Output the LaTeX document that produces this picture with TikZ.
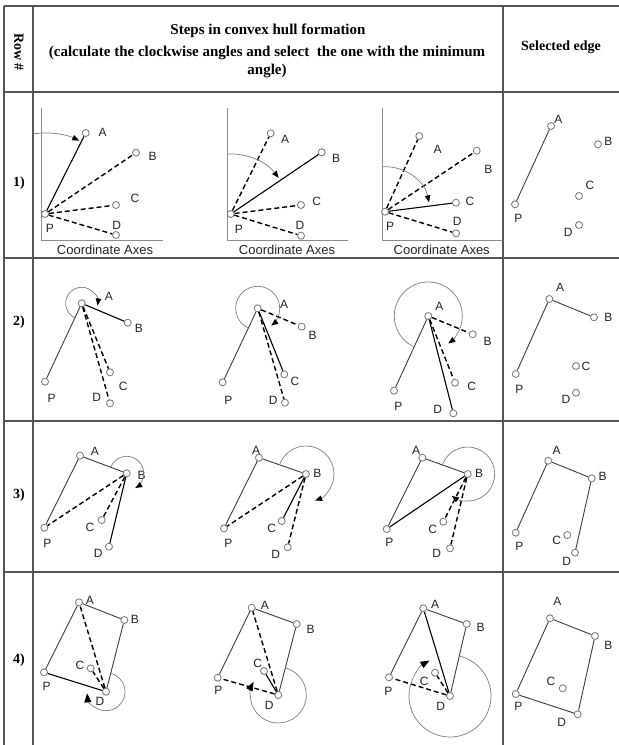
\documentclass[tikz,border=0pt]{standalone}
\usepackage{fontspec}
\setmainfont{Liberation Serif}
\newfontfamily\ptfont{Liberation Sans}
\usetikzlibrary{arrows.meta}
\definecolor{gridgray}{RGB}{85,85,85}
\definecolor{axisgray}{RGB}{140,140,140}
\definecolor{ptgray}{RGB}{115,115,115}
\definecolor{arcgray}{RGB}{125,125,125}
\definecolor{edgeink}{RGB}{60,60,60}
\definecolor{labelink}{RGB}{35,35,35}

\begin{document}
\begin{tikzpicture}[x=1pt, y=1pt, yscale=-1,
  every node/.style={inner sep=0pt},
  headtxt/.style={font=\fontsize{14}{17}\selectfont\bfseries, align=center},
  hullpt/.style={circle, draw=ptgray, fill=white, line width=0.8pt, minimum size=7pt},
  lbl/.style={font=\ptfont\fontsize{12}{14}\selectfont, text=labelink},
  axislbl/.style={font=\ptfont\fontsize{13}{15}\selectfont, text=labelink},
  rule/.style={gridgray, line width=1.3pt},
  axisline/.style={axisgray, line width=0.9pt},
  hull/.style={edgeink, line width=0.9pt},
  cur/.style={black, line width=1.1pt},
  cand/.style={black, line width=1.4pt, dash pattern=on 5pt off 3pt},
  sweep/.style={arcgray, line width=0.7pt, -{Triangle[color=black, length=7pt, width=5.5pt]}},
  bigsweep/.style={sweep, -{Triangle[color=black, length=9pt, width=7pt]}}
]
  \useasboundingbox (0,0) rectangle (619,745);

  % Table
  \draw[rule] (4,6) -- (619,6);
  \draw[rule] (4,92) -- (619,92);
  \draw[rule] (4,258) -- (619,258);
  \draw[rule] (4,421) -- (619,421);
  \draw[rule] (4,572) -- (619,572);
  \draw[rule] (4,6) -- (4,745);
  \draw[rule] (33,6) -- (33,745);
  \draw[rule] (503,6) -- (503,745);

  % Header
  \node[headtxt, rotate=-90] (rowhead) at (19,52) {Row \#};
  \node[headtxt, font=\fontsize{15}{17}\selectfont\bfseries] (title) at (268,31) {Steps in convex hull formation};
  \node[headtxt, font=\fontsize{15}{17.5}\selectfont\bfseries] (subtitle) at (267,62) {(calculate the clockwise angles and select\ \ the one with the minimum\\angle)};
  \node[headtxt] (selhead) at (561,47) {Selected edge};

  \node[headtxt] (row1) at (19,183) {1)};
  \node[headtxt] (row2) at (19,322) {2)};
  \node[headtxt] (row3) at (19,495) {3)};
  \node[headtxt] (row4) at (19,660) {4)};

  % Row 1: coordinate axes
  \draw[axisline] (41.7,108) -- (41.7,240) -- (163,240);
  \draw[axisline] (227.3,108) -- (227.3,240) -- (348,240);
  \draw[axisline] (382.7,108) -- (382.7,240) -- (503,240);
  \node[axislbl] (axes1a) at (105,250) {Coordinate Axes};
  \node[axislbl] (axes1b) at (287,250) {Coordinate Axes};
  \node[axislbl] (axes1c) at (441.7,250) {Coordinate Axes};

  % Row 1: points
  \node[hullpt] (P1a) at (45,214) {};      \node[lbl] (tP1a) at (50,228) {P};
  \node[hullpt] (A1a) at (85.7,133) {};    \node[lbl] (tA1a) at (102.7,132.7) {A};
  \node[hullpt] (B1a) at (136,152.7) {};   \node[lbl] (tB1a) at (152.7,156.7) {B};
  \node[hullpt] (C1a) at (116,205) {};     \node[lbl] (tC1a) at (135,198) {C};
  \node[hullpt] (D1a) at (116,235) {};     \node[lbl] (tD1a) at (116.7,225) {D};

  \node[hullpt] (P1b) at (230.7,214) {};   \node[lbl] (tP1b) at (239,229) {P};
  \node[hullpt] (A1b) at (270.7,133.3) {}; \node[lbl] (tA1b) at (285,139) {A};
  \node[hullpt] (B1b) at (321.7,152.3) {}; \node[lbl] (tB1b) at (336,158) {B};
  \node[hullpt] (C1b) at (301,205) {};     \node[lbl] (tC1b) at (316.7,201.7) {C};
  \node[hullpt] (D1b) at (301,235.7) {};   \node[lbl] (tD1b) at (300,225) {D};

  \node[hullpt] (P1c) at (385,211.7) {};   \node[lbl] (tP1c) at (390,226.7) {P};
  \node[hullpt] (A1c) at (419.3,136) {};   \node[lbl] (tA1c) at (437.7,149.3) {A};
  \node[hullpt] (B1c) at (476.7,150.7) {}; \node[lbl] (tB1c) at (488.3,169.3) {B};
  \node[hullpt] (C1c) at (456,202.7) {};   \node[lbl] (tC1c) at (470,201) {C};
  \node[hullpt] (D1c) at (456,233.3) {};   \node[lbl] (tD1c) at (457.3,221.7) {D};

  \node[hullpt] (P1d) at (515,204.3) {};   \node[lbl] (tP1d) at (518.3,218.3) {P};
  \node[hullpt] (A1d) at (551,126) {};     \node[lbl] (tA1d) at (558.3,119.3) {A};
  \node[hullpt] (B1d) at (598,144.3) {};   \node[lbl] (tB1d) at (608.3,141.7) {B};
  \node[hullpt] (C1d) at (579,196) {};     \node[lbl] (tC1d) at (590,185) {C};
  \node[hullpt] (D1d) at (579,225) {};     \node[lbl] (tD1d) at (568.3,232.7) {D};

  % Row 2: points
  \node[hullpt] (P2a) at (45,381.7) {};    \node[lbl] (tP2a) at (51.7,398.3) {P};
  \node[hullpt] (A2a) at (81.7,303.3) {};  \node[lbl] (tA2a) at (109,296.7) {A};
  \node[hullpt] (B2a) at (127.7,322.7) {}; \node[lbl] (tB2a) at (139,328.3) {B};
  \node[hullpt] (C2a) at (110,372.3) {};   \node[lbl] (tC2a) at (123.3,386.7) {C};
  \node[hullpt] (D2a) at (110,403.3) {};   \node[lbl] (tD2a) at (96.7,397.7) {D};

  \node[hullpt] (P2b) at (222.7,382.3) {}; \node[lbl] (tP2b) at (228.3,400.7) {P};
  \node[hullpt] (A2b) at (257.7,308.3) {}; \node[lbl] (tA2b) at (284,304.3) {A};
  \node[hullpt] (B2b) at (301.7,326.7) {}; \node[lbl] (tB2b) at (312.7,335) {B};
  \node[hullpt] (C2b) at (284.3,374.3) {}; \node[lbl] (tC2b) at (295,381.7) {C};
  \node[hullpt] (D2b) at (285,402.7) {};   \node[lbl] (tD2b) at (273.3,400) {D};

  \node[hullpt] (P2c) at (394,390.7) {};   \node[lbl] (tP2c) at (398.3,406.7) {P};
  \node[hullpt] (A2c) at (428.3,316) {};   \node[lbl] (tA2c) at (439.3,306.7) {A};
  \node[hullpt] (B2c) at (472.7,334.3) {}; \node[lbl] (tB2c) at (487.7,341) {B};
  \node[hullpt] (C2c) at (455,382.7) {};   \node[lbl] (tC2c) at (471.7,386) {C};
  \node[hullpt] (D2c) at (453.3,413.3) {}; \node[lbl] (tD2c) at (437.7,409) {D};

  \node[hullpt] (P2d) at (515.7,374) {};   \node[lbl] (tP2d) at (519.3,389.3) {P};
  \node[hullpt] (A2d) at (549.3,299) {};   \node[lbl] (tA2d) at (560,287.3) {A};
  \node[hullpt] (B2d) at (594,317.3) {};   \node[lbl] (tB2d) at (608.3,317.3) {B};
  \node[hullpt] (C2d) at (576,366) {};     \node[lbl] (tC2d) at (586,366) {C};
  \node[hullpt] (D2d) at (576,392.7) {};   \node[lbl] (tD2d) at (566,399) {D};

  % Row 3: points
  \node[hullpt] (P3a) at (44.3,527.7) {};  \node[lbl] (tP3a) at (47.3,543.3) {P};
  \node[hullpt] (A3a) at (80,455.7) {};    \node[lbl] (tA3a) at (95,451.7) {A};
  \node[hullpt] (B3a) at (126.7,473.3) {}; \node[lbl] (tB3a) at (141.7,475) {B};
  \node[hullpt] (C3a) at (101.7,520) {};   \node[lbl] (tC3a) at (90,527.3) {C};
  \node[hullpt] (D3a) at (109,546.7) {};   \node[lbl] (tD3a) at (98.3,553.3) {D};

  \node[hullpt] (P3b) at (224,528.3) {};   \node[lbl] (tP3b) at (228.3,543.3) {P};
  \node[hullpt] (A3b) at (259,457.7) {};   \node[lbl] (tA3b) at (256,450.7) {A};
  \node[hullpt] (B3b) at (306,474) {};     \node[lbl] (tB3b) at (317.3,473.3) {B};
  \node[hullpt] (C3b) at (281.7,521) {};   \node[lbl] (tC3b) at (271.7,528.3) {C};
  \node[hullpt] (D3b) at (287.7,547.3) {}; \node[lbl] (tD3b) at (275.7,554) {D};

  \node[hullpt] (P3c) at (386.7,529) {};   \node[lbl] (tP3c) at (389.3,542.7) {P};
  \node[hullpt] (A3c) at (422.3,457.7) {}; \node[lbl] (tA3c) at (416,450) {A};
  \node[hullpt] (B3c) at (467.7,474) {};   \node[lbl] (tB3c) at (479,473.3) {B};
  \node[hullpt] (C3c) at (443.3,521.7) {}; \node[lbl] (tC3c) at (432.7,529.3) {C};
  \node[hullpt] (D3c) at (450,548.3) {};   \node[lbl] (tD3c) at (436.7,553.3) {D};

  \node[hullpt] (P3d) at (515.7,532.7) {}; \node[lbl] (tP3d) at (519.3,546) {P};
  \node[hullpt] (A3d) at (548.3,460.7) {}; \node[lbl] (tA3d) at (556.7,450) {A};
  \node[hullpt] (B3d) at (591.7,478.3) {}; \node[lbl] (tB3d) at (602.7,476.7) {B};
  \node[hullpt] (C3d) at (567.3,535) {};   \node[lbl] (tC3d) at (556.7,540.7) {C};
  \node[hullpt] (D3d) at (575,552.7) {};   \node[lbl] (tD3d) at (566.7,561.7) {D};

  % Row 4: points
  \node[hullpt] (P4a) at (44,672.3) {};    \node[lbl] (tP4a) at (46.7,686.7) {P};
  \node[hullpt] (A4a) at (79,602.3) {};    \node[lbl] (tA4a) at (90,600.7) {A};
  \node[hullpt] (B4a) at (124.3,620) {};   \node[lbl] (tB4a) at (135,619.3) {B};
  \node[hullpt] (C4a) at (90.7,668.3) {};  \node[lbl] (tC4a) at (80,665) {C};
  \node[hullpt] (D4a) at (106,691.7) {};   \node[lbl] (tD4a) at (100,701.7) {D};

  \node[hullpt] (P4b) at (217.7,677.7) {}; \node[lbl] (tP4b) at (218.3,690.7) {P};
  \node[hullpt] (A4b) at (251.7,607.7) {}; \node[lbl] (tA4b) at (265,605) {A};
  \node[hullpt] (B4b) at (296.7,624) {};   \node[lbl] (tB4b) at (310.7,629.3) {B};
  \node[hullpt] (C4b) at (264,671) {};     \node[lbl] (tC4b) at (257.7,663.3) {C};
  \node[hullpt] (D4b) at (278.3,695) {};   \node[lbl] (tD4b) at (269.3,705) {D};

  \node[hullpt] (P4c) at (389,677.3) {};   \node[lbl] (tP4c) at (388.3,691.7) {P};
  \node[hullpt] (A4c) at (423.3,608.3) {}; \node[lbl] (tA4c) at (435,604.3) {A};
  \node[hullpt] (B4c) at (466.7,624) {};   \node[lbl] (tB4c) at (480.7,627.7) {B};
  \node[hullpt] (C4c) at (435,672.7) {};   \node[lbl] (tC4c) at (424.3,681.7) {C};
  \node[hullpt] (D4c) at (450,696) {};     \node[lbl] (tD4c) at (440.7,706.7) {D};

  \node[hullpt] (P4d) at (515.7,694) {};   \node[lbl] (tP4d) at (518.3,706.7) {P};
  \node[hullpt] (A4d) at (550,618.3) {};   \node[lbl] (tA4d) at (557.3,601.7) {A};
  \node[hullpt] (B4d) at (595,636) {};     \node[lbl] (tB4d) at (608.3,645) {B};
  \node[hullpt] (C4d) at (562.7,688.3) {}; \node[lbl] (tC4d) at (551,681.7) {C};
  \node[hullpt] (D4d) at (577.7,714.3) {}; \node[lbl] (tD4d) at (561.7,722.7) {D};

  % Row 1: edges and angles
  \draw[cur] (P1a) -- (A1a);
  \draw[cand] (P1a) -- (B1a);
  \draw[cand] (P1a) -- (C1a);
  \draw[cand] (P1a) -- (D1a);
  \draw[sweep] (P1a) ++(262:81) arc[start angle=262, end angle=295, radius=81];

  \draw[cand] (P1b) -- (A1b);
  \draw[cur] (P1b) -- (B1b);
  \draw[cand] (P1b) -- (C1b);
  \draw[cand] (P1b) -- (D1b);
  \draw[sweep] (P1b) ++(266:60) arc[start angle=266, end angle=323, radius=60];

  \draw[cand] (P1c) -- (A1c);
  \draw[cand] (P1c) -- (B1c);
  \draw[cur] (P1c) -- (C1c);
  \draw[cand] (P1c) -- (D1c);
  \draw[sweep] (P1c) ++(266:45) arc[start angle=266, end angle=348, radius=45];

  \draw[hull] (P1d) -- (A1d);

  % Row 2: edges and angles
  \draw[hull] (P2a) -- (A2a);
  \draw[cur] (A2a) -- (B2a);
  \draw[cand] (A2a) -- (C2a);
  \draw[cand] (A2a) -- (D2a);
  \draw[sweep] (A2a) ++(115:16) arc[start angle=115, end angle=368, radius=16];

  \draw[hull] (P2b) -- (A2b);
  \draw[cand] (A2b) -- (B2b);
  \draw[cur] (A2b) -- (C2b);
  \draw[cand] (A2b) -- (D2b);
  \draw[sweep] (A2b) ++(115:22) arc[start angle=115, end angle=412, radius=22];

  \draw[hull] (P2c) -- (A2c);
  \draw[cand] (A2c) -- (B2c);
  \draw[cand] (A2c) -- (C2c);
  \draw[cur] (A2c) -- (D2c);
  \draw[sweep] (A2c) ++(115:34) arc[start angle=115, end angle=414, radius=34];

  \draw[hull] (P2d) -- (A2d);
  \draw[hull] (A2d) -- (B2d);

  % Row 3: edges and angles
  \draw[hull] (P3a) -- (A3a);
  \draw[hull] (A3a) -- (B3a);
  \draw[cand] (B3a) -- (P3a);
  \draw[cand] (B3a) -- (C3a);
  \draw[cur] (B3a) -- (D3a);
  \draw[sweep] (B3a) ++(201:17) arc[start angle=201, end angle=420, radius=17];

  \draw[hull] (P3b) -- (A3b);
  \draw[hull] (A3b) -- (B3b);
  \draw[cand] (B3b) -- (P3b);
  \draw[cur] (B3b) -- (C3b);
  \draw[cand] (B3b) -- (D3b);
  \draw[sweep] (B3b) ++(199:28) arc[start angle=199, end angle=431, radius=28];

  \draw[hull] (P3c) -- (A3c);
  \draw[hull] (A3c) -- (B3c);
  \draw[cur] (B3c) -- (P3c);
  \draw[cand] (B3c) -- (C3c);
  \draw[cand] (B3c) -- (D3c);
  \draw[sweep] (B3c) ++(200:27) arc[start angle=200, end angle=486, radius=27];

  \draw[hull] (P3d) -- (A3d);
  \draw[hull] (A3d) -- (B3d);
  \draw[hull] (B3d) -- (D3d);

  % Row 4: edges and angles
  \draw[hull] (P4a) -- (A4a);
  \draw[hull] (A4a) -- (B4a);
  \draw[hull] (B4a) -- (D4a);
  \draw[cur] (D4a) -- (P4a);
  \draw[cand] (D4a) -- (A4a);
  \draw[cand] (D4a) -- (C4a);
  \draw[bigsweep] (D4a) ++(284:19) arc[start angle=284, end angle=535, radius=19];

  \draw[hull] (P4b) -- (A4b);
  \draw[hull] (A4b) -- (B4b);
  \draw[hull] (B4b) -- (D4b);
  \draw[cand] (D4b) -- (P4b);
  \draw[cand] (D4b) -- (A4b);
  \draw[cur] (D4b) -- (C4b);
  \draw[bigsweep] (D4b) ++(285:28) arc[start angle=285, end angle=568, radius=28];

  \draw[hull] (P4c) -- (A4c);
  \draw[hull] (A4c) -- (B4c);
  \draw[hull] (B4c) -- (D4c);
  \draw[cand] (D4c) -- (P4c);
  \draw[cur] (D4c) -- (A4c);
  \draw[cand] (D4c) -- (C4c);
  \draw[bigsweep] (D4c) ++(283:41) arc[start angle=283, end angle=600, radius=41];

  \draw[hull] (P4d) -- (A4d);
  \draw[hull] (A4d) -- (B4d);
  \draw[hull] (B4d) -- (D4d);
  \draw[hull] (D4d) -- (P4d);
\end{tikzpicture}
\end{document}
